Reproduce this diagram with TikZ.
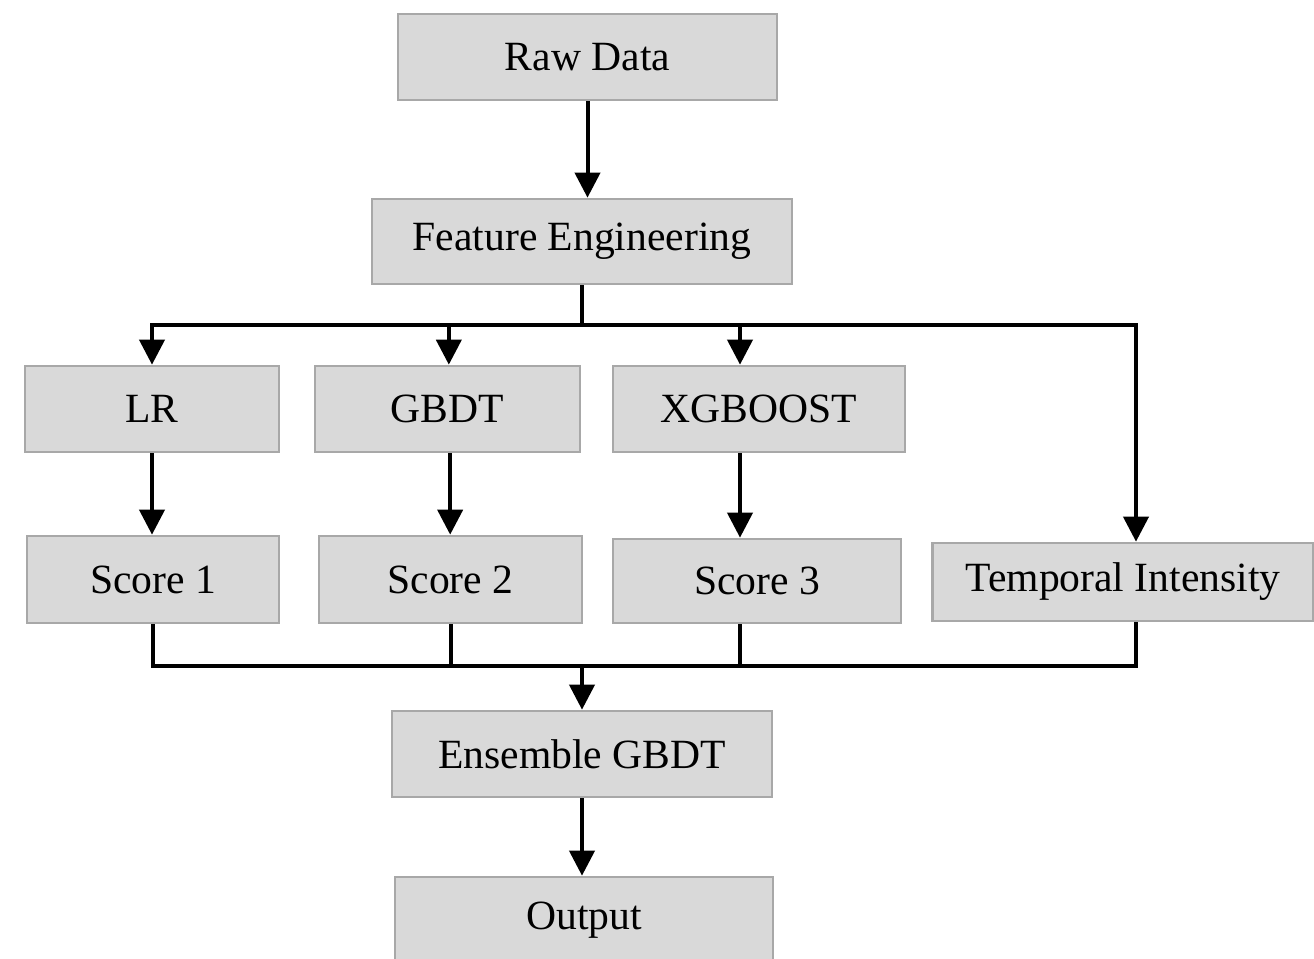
\documentclass[tikz,border=0pt]{standalone}
\usepackage{fontspec}
\setmainfont{Liberation Serif}
\usetikzlibrary{arrows.meta,positioning}
\definecolor{boxfill}{HTML}{D9D9D9}
\definecolor{boxedge}{HTML}{A8A8A8}
\begin{document}
\begin{tikzpicture}[x=0.75pt,y=-0.75pt,
  box/.style={draw=boxedge, fill=boxfill, line width=2pt, inner sep=0pt,
    font=\fontsize{31.2}{36}\selectfont},
  bus/.style={draw=black, line width=3pt},
  arr/.style={bus, -{Triangle[length=18.75pt,width=18.75pt]}}]
\useasboundingbox (0,0) rectangle (1314,959);

% stages of the pipeline
\node[box, minimum width=284.25pt, minimum height=64.5pt] (raw)  at (587.5,57)   {Raw Data};
\node[box, minimum width=315pt,    minimum height=63.75pt] (feat) at (582,241.5) {Feature Engineering};
\node[box, minimum width=190.5pt,  minimum height=64.5pt] (lr)   at (152,409)    {LR};
\node[box, minimum width=198.75pt, minimum height=64.5pt] (gbdt) at (447.5,409)  {GBDT};
\node[box, minimum width=219pt,    minimum height=64.5pt] (xgb)  at (759,409)    {XGBOOST};
\node[box, minimum width=189pt,    minimum height=65.25pt] (s1)  at (153,579.5)  {Score 1};
\node[box, minimum width=197.25pt, minimum height=65.25pt] (s2)  at (450.5,579.5) {Score 2};
\node[box, minimum width=216pt,    minimum height=63pt]    (s3)  at (757,581)    {Score 3};
\node[box, minimum width=285.75pt, minimum height=58.5pt]  (ti)  at (1123,582)   {Temporal Intensity};
\node[box, minimum width=285pt,    minimum height=64.5pt]  (ens) at (582,754)    {Ensemble GBDT};
\node[box, minimum width=283.5pt,  minimum height=64.5pt]  (out) at (584,920)    {Output};

% branching and joining points of the buses
\coordinate (split) at (582,325);
\coordinate (join)  at (582,666);

\draw[arr] (raw.south) -- (raw.south |- feat.north);
\draw[bus] (feat.south) -- (split);
\draw[arr] (split) -| (lr.north);
\draw[arr] (split) -| ([xshift=1pt]gbdt.north);
\draw[arr] (split) -| ([xshift=-14.25pt]xgb.north);
\draw[arr] (split) -| ([xshift=9.75pt]ti.north);

\draw[arr] (lr.south) -- (lr.south |- s1.north);
\draw[arr] ([xshift=2pt]gbdt.south) -- ([xshift=2pt]gbdt.south |- s2.north);
\draw[arr] ([xshift=-14.25pt]xgb.south) -- ([xshift=-14.25pt]xgb.south |- s3.north);

\draw[bus] (s1.south) |- (join);
\draw[bus] (s2.south) |- (join);
\draw[bus] ([xshift=-12.75pt]s3.south) |- (join);
\draw[bus] ([xshift=9.75pt]ti.south) |- (join);
\draw[arr] (join) -- (join |- ens.north);
\draw[arr] (join |- ens.south) -- (join |- out.north);
\end{tikzpicture}
\end{document}
